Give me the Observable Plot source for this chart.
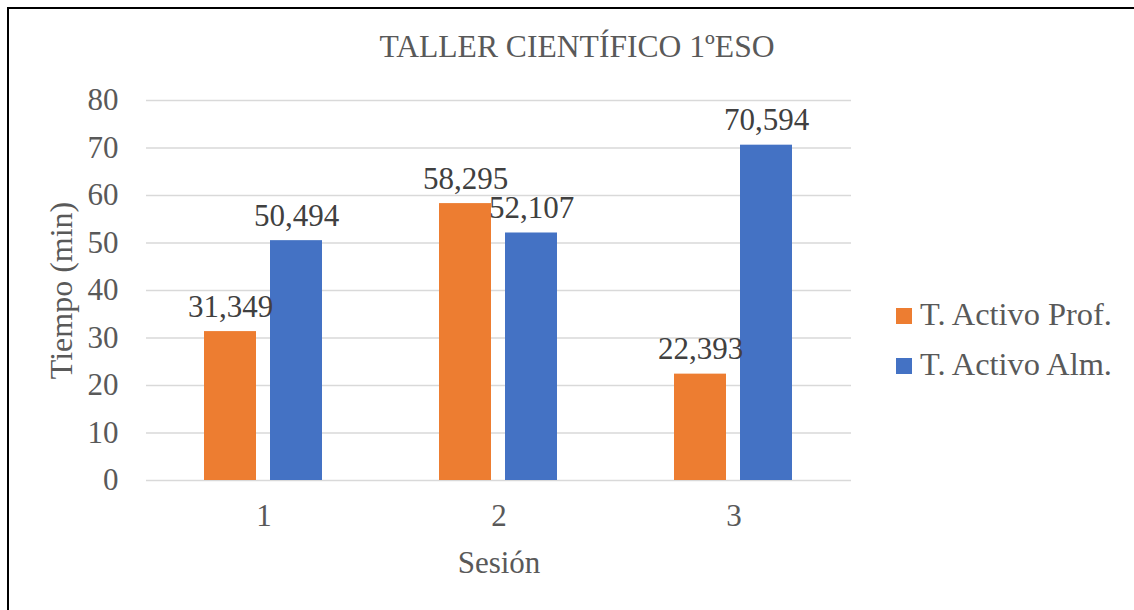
<!DOCTYPE html>
<html>
<head>
<meta charset="utf-8">
<script src="https://cdn.jsdelivr.net/npm/d3@7"></script>
<script src="https://cdn.jsdelivr.net/npm/@observablehq/plot@0.6"></script>
<style>
  html, body { margin: 0; padding: 0; background: #fff; width: 1134px; height: 610px; overflow: hidden; }
  body { position: relative; font-family: "Liberation Serif", "Times New Roman", serif; }
  #frame { position: absolute; left: 7px; top: 7px; width: 2000px; height: 2000px;
           border-left: 2px solid #000; border-top: 2px solid #000; }
  #title { position: absolute; left: 20px; width: 1114px; top: 31px; text-align: center;
           font-size: 31.6px; line-height: 32px; color: #595959; white-space: nowrap; }
  #chart { position: absolute; left: 0; top: 0; }
  .legend-row { position: absolute; left: 896px; height: 32px; font-size: 32.4px; line-height: 32px;
                color: #595959; white-space: nowrap; }
  .legend-row .sw { position: absolute; left: 0; top: 10px; width: 16px; height: 16px; }
  .legend-row .lb { position: absolute; left: 24px; top: 0; }
</style>
</head>
<body>
<div id="frame"></div>
<div id="title">TALLER CIENTÍFICO 1ºESO</div>
<div id="chart"></div>
<div id="legend"></div>
<script>
// ---- data ----
const sessions = ["1", "2", "3"];
const seriesNames = ["T. Activo Prof.", "T. Activo Alm."];
const profValues = [31.349, 58.295, 22.393];
const almValues = [50.494, 52.107, 70.594];
const yTicks = [0, 10, 20, 30, 40, 50, 60, 70, 80];
const seriesColors = ["#ED7D31", "#4472C4"];

const rows = [];
sessions.forEach((s, i) => {
  rows.push({session: s, series: seriesNames[0], value: profValues[i]});
  rows.push({session: s, series: seriesNames[1], value: almValues[i]});
});

const es = d3.formatLocale({decimal: ",", thousands: ".", grouping: [3], currency: ["", " €"]});
const fmt = es.format(".3f");

const chart = Plot.plot({
  width: 1134,
  height: 610,
  marginLeft: 145,
  marginRight: 282,
  marginTop: 100,
  marginBottom: 130,
  style: {fontFamily: '"Liberation Serif", "Times New Roman", serif', fontSize: "31px", color: "#595959", background: "transparent"},
  fx: {domain: sessions, padding: 0},
  x: {domain: seriesNames, paddingInner: 0.209, paddingOuter: 0.8634, axis: null},
  y: {domain: [0, 80]},
  color: {domain: seriesNames, range: seriesColors},
  marks: [
    Plot.gridY(yTicks, {stroke: "#D9D9D9", strokeOpacity: 1, strokeWidth: 1.5}),
    Plot.axisY(yTicks, {tickSize: 0, tickPadding: 28, fontSize: 31, label: null}),
    Plot.axisY({tickSize: 0, ticks: [], fontSize: 32, label: "Tiempo (min)", labelArrow: "none", labelAnchor: "center", labelOffset: 97}),
    Plot.axisFx({anchor: "bottom", tickSize: 0, tickPadding: 23, fontSize: 31, label: "Sesión", labelArrow: "none", labelAnchor: "center", labelOffset: 92}),
    Plot.barY(rows, {fx: "session", x: "series", y: "value", fill: "series"}),
    Plot.text(rows, {fx: "session", x: "series", y: "value", text: d => fmt(d.value), lineAnchor: "bottom", dy: -15, fill: "#404040", fontSize: 31})
  ]
});
document.getElementById("chart").appendChild(chart);

// legend
const legend = document.getElementById("legend");
seriesNames.forEach((name, i) => {
  const row = document.createElement("div");
  row.className = "legend-row";
  row.style.top = (298 + i * 50) + "px";
  const sw = document.createElement("span");
  sw.className = "sw";
  sw.style.background = seriesColors[i];
  const lb = document.createElement("span");
  lb.className = "lb";
  lb.textContent = name;
  row.appendChild(sw);
  row.appendChild(lb);
  legend.appendChild(row);
});
</script>
</body>
</html>
